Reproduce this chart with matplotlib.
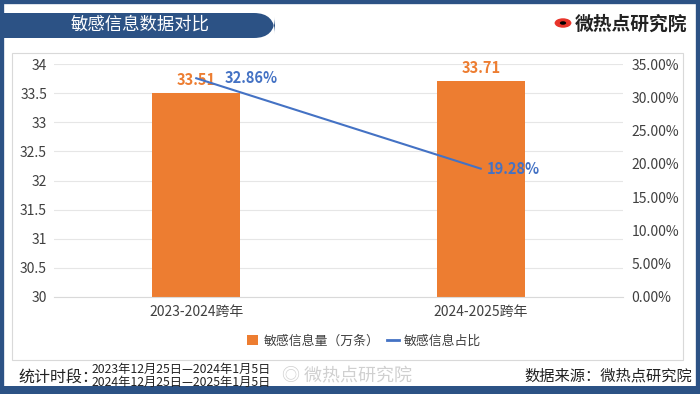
import matplotlib
matplotlib.use("Agg")
import matplotlib.pyplot as plt
from matplotlib.patches import FancyBboxPatch, Rectangle
from matplotlib.lines import Line2D
from matplotlib.ticker import FuncFormatter

plt.rcParams['font.family'] = ['Noto Sans CJK SC', 'DejaVu Sans']

categories = ["2023-2024跨年", "2024-2025跨年"]
volume = [33.51, 33.71]          # 敏感信息量（万条）
share = [32.86, 19.28]           # 敏感信息占比 (%)
left_ticks = [30, 30.5, 31, 31.5, 32, 32.5, 33, 33.5, 34]
right_ticks = [0, 5, 10, 15, 20, 25, 30, 35]

W, H = 700, 394
fig = plt.figure(figsize=(7, 3.94), dpi=100)
fig.patch.set_facecolor("white")

navy = "#2C5285"
orange = "#ED7D31"
blue = "#4472C4"

def fx(x): return x / W
def fy(y): return 1 - y / H

# outer frame
fig.patches.append(Rectangle((0, 0), 1, 1, transform=fig.transFigure, fill=False,
                             edgecolor=navy, linewidth=6, zorder=0))
fig.patches.append(Rectangle((0, 0), 1, fy(386), transform=fig.transFigure,
                             facecolor=navy, edgecolor="none", zorder=0))
# title banner
fig.patches.append(FancyBboxPatch((fx(-20), fy(38)), fx(295), fy(13) - fy(38),
                                  boxstyle="round,pad=0,rounding_size=0.03",
                                  transform=fig.transFigure, facecolor=navy,
                                  edgecolor="none", mutation_aspect=1.78))
fig.text(fx(140), fy(25), "敏感信息数据对比", color="white", fontsize=12.5,
         ha="center", va="center")
# logo
fig.patches.append(plt.Circle((fx(563), fy(23)), 0.012, transform=fig.transFigure,
                              facecolor="#E8342A", edgecolor="none"))
fig.patches.append(plt.Circle((fx(563), fy(23)), 0.0045, transform=fig.transFigure,
                              facecolor="black", edgecolor="none"))
fig.text(fx(575), fy(24), "微热点研究院", color="#222222", fontsize=13.5,
         fontweight="bold", ha="left", va="center")

# inner chart box
fig.patches.append(Rectangle((fx(12), fy(360)), fx(683) - fx(12), fy(53) - fy(360),
                             transform=fig.transFigure, fill=False,
                             edgecolor="#D9D9D9", linewidth=0.8))

ax = fig.add_axes([fx(54), fy(297), fx(623) - fx(54), fy(64) - fy(297)])
x = [0, 1]
bars = ax.bar(x, [v - 30 for v in volume], bottom=30, width=0.31, color=orange, zorder=2)
ax.set_ylim(30, 34)
ax.set_xlim(-0.5, 1.5)
ax.set_yticks(left_ticks)
ax.set_yticklabels([f"{t:g}" for t in left_ticks], fontsize=10, color="#404040")
ax.set_xticks(x)
ax.set_xticklabels(categories, fontsize=10, color="#404040")
ax.tick_params(axis="x", length=0, pad=6)
ax.tick_params(axis="y", length=0, pad=5)
ax.grid(axis="y", color="#E6E6E6", linewidth=0.8, zorder=0)
for s in ["top", "right", "left"]:
    ax.spines[s].set_visible(False)
ax.spines["bottom"].set_color("#D9D9D9")
for xi, v in zip(x, volume):
    ax.text(xi, v + 0.08, f"{v:.2f}", color=orange, fontsize=10.5, fontweight="bold",
            ha="center", va="bottom", zorder=4)

ax2 = ax.twinx()
ax2.plot(x, share, color=blue, linewidth=1.5, zorder=3)
ax2.set_ylim(0, 35)
ax2.set_yticks(right_ticks)
ax2.yaxis.set_major_formatter(FuncFormatter(lambda v, p: f"{v:.2f}%"))
ax2.tick_params(length=0, labelsize=10, labelcolor="#404040", pad=6)
for s in ["top", "right", "left", "bottom"]:
    ax2.spines[s].set_visible(False)
label_dx = [0.1, 0.02]
for xi, v, dx in zip(x, share, label_dx):
    ax2.text(xi + dx, v, f"{v:.2f}%", color=blue, fontsize=10.5, fontweight="bold",
             ha="left", va="center", zorder=4)

# legend
handles = [Rectangle((0, 0), 1, 1, facecolor=orange),
           Line2D([0], [0], color=blue, linewidth=2)]
fig.legend(handles, ["敏感信息量（万条）", "敏感信息占比"], loc="center",
           bbox_to_anchor=(fx(364), fy(341)), ncol=2, frameon=False, fontsize=9.3,
           handlelength=0.9, handleheight=0.8, columnspacing=0.6, handletextpad=0.4,
           labelcolor="#404040")

# footer
fig.text(fx(18), fy(377), "统计时段：", fontsize=11.5, color="#222222", ha="left", va="center")
fig.text(fx(92), fy(369), "2023年12月25日—2024年1月5日", fontsize=8.8, color="#222222",
         ha="left", va="center")
fig.text(fx(92), fy(382.5), "2024年12月25日—2025年1月5日", fontsize=8.8, color="#222222",
         ha="left", va="center")
fig.text(fx(282), fy(376), "◎ 微热点研究院", fontsize=13, color="#D0D0D0",
         ha="left", va="center")
fig.text(fx(692), fy(376), "数据来源：微热点研究院", fontsize=11, color="#222222",
         ha="right", va="center")

fig.savefig("out.png", dpi=100)
